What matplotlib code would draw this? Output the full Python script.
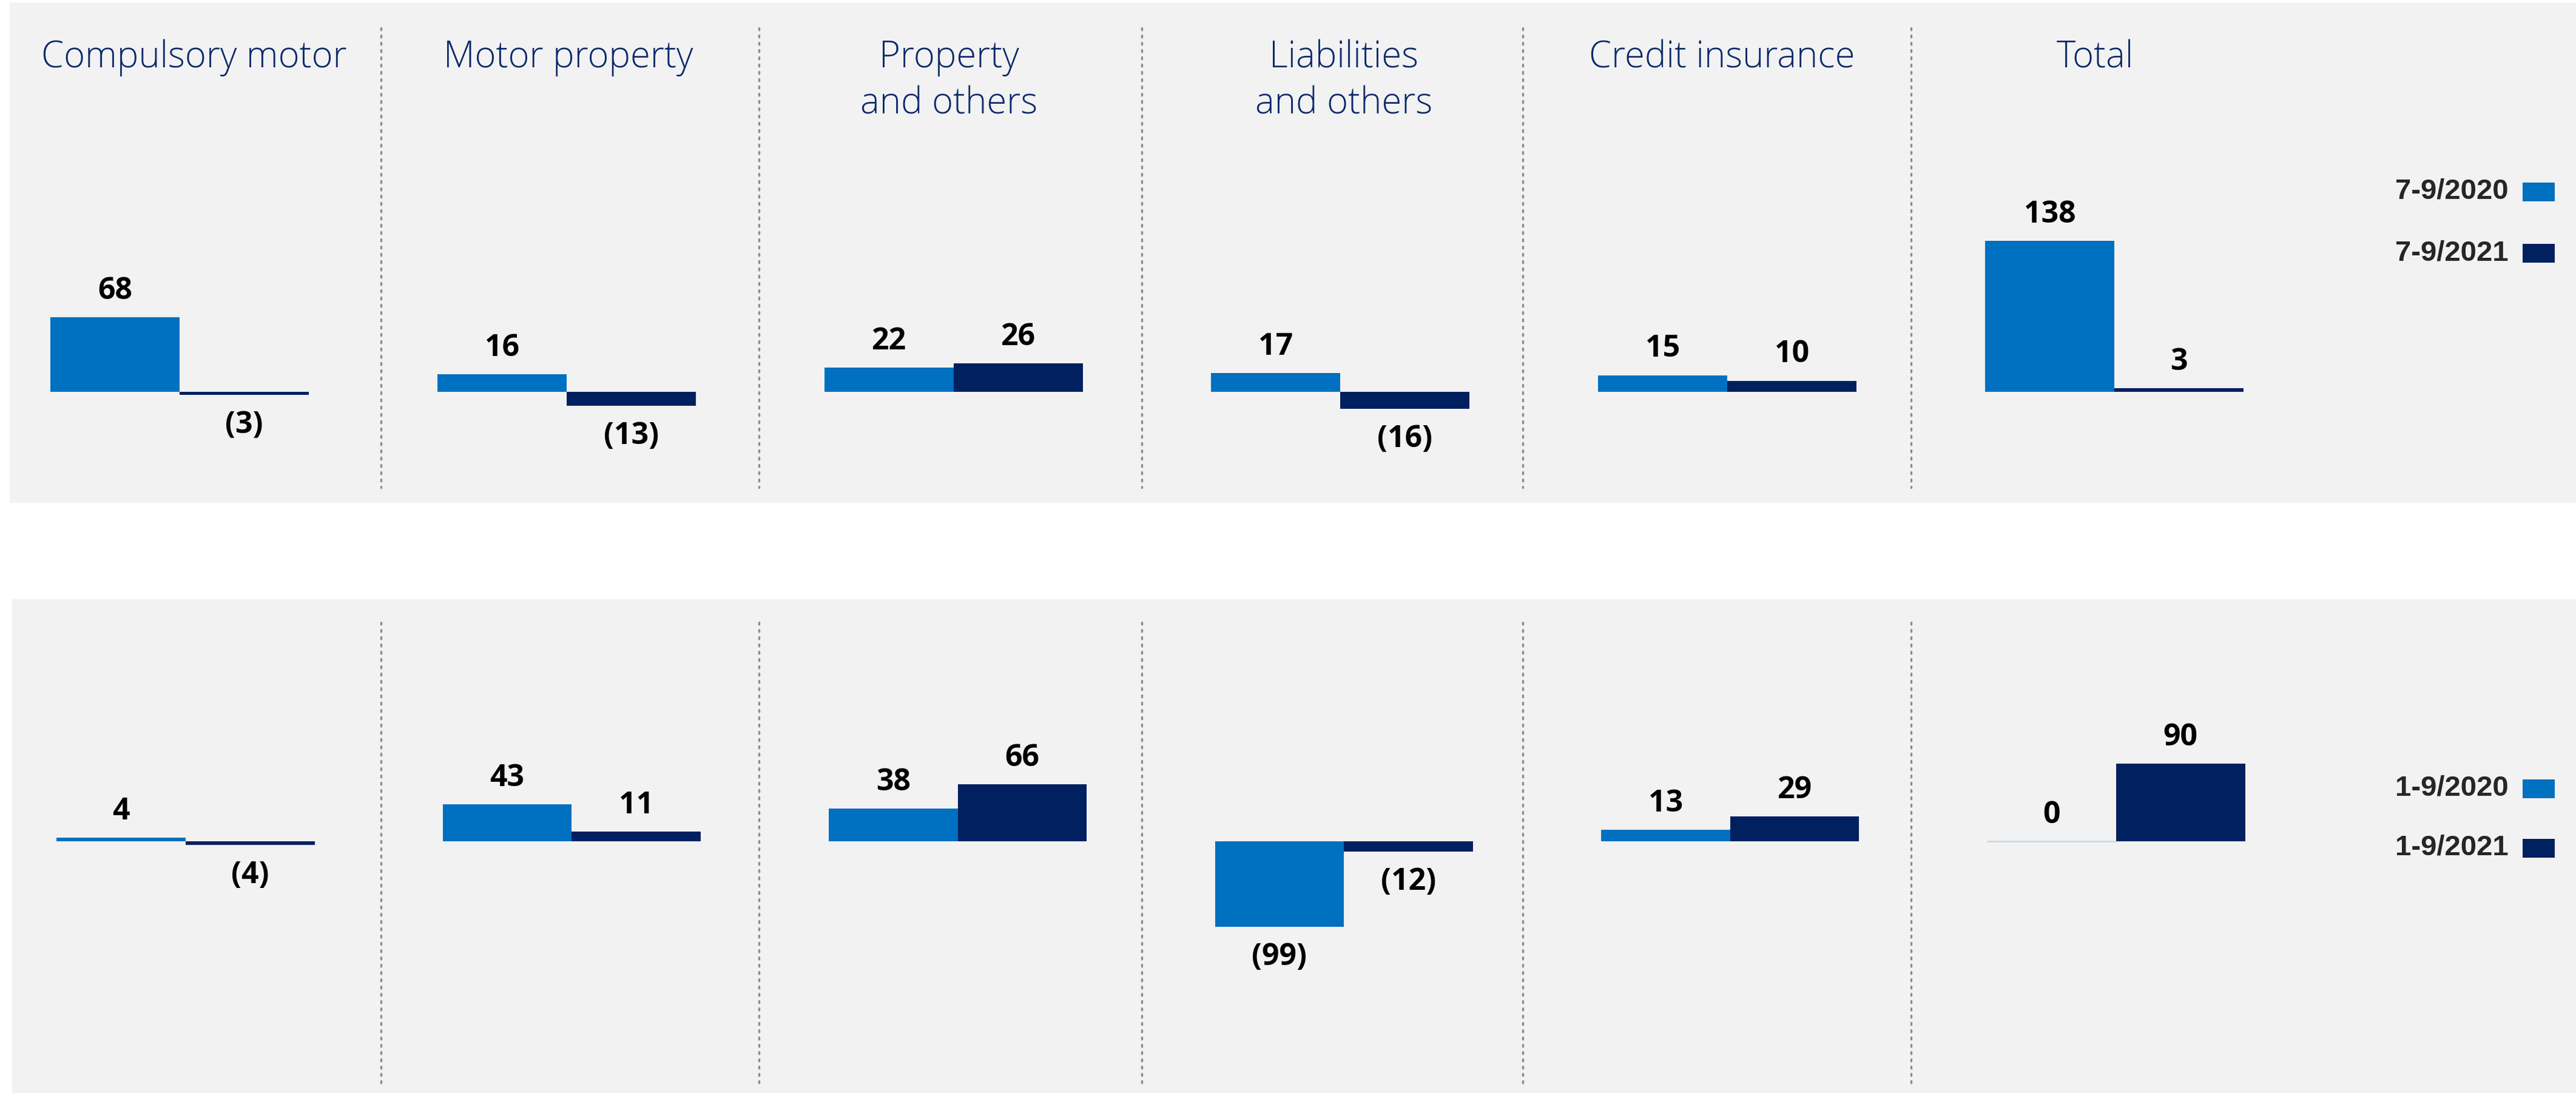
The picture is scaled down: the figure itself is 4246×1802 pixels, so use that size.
import matplotlib.pyplot as plt
from matplotlib.lines import Line2D
from matplotlib.patches import Rectangle

# Data
categories = ["Compulsory motor", "Motor property", "Property\nand others",
              "Liabilities\nand others", "Credit insurance", "Total"]

q3_series = ["7-9/2020", "7-9/2021"]
q3_2020 = [68, 16, 22, 17, 15, 138]
q3_2021 = [-3, -13, 26, -16, 10, 3]

ytd_series = ["1-9/2020", "1-9/2021"]
ytd_2020 = [4, 43, 38, -99, 13, 0]
ytd_2021 = [-4, 11, 66, -12, 29, 90]

# Styling / layout (pixels of the 4246x1802 canvas)
W, H, DPI = 4246, 1802, 100
LIGHT = "#0070c0"
DARK = "#002060"
BG = "#f2f2f2"
TITLE_C = "#0b2a6b"
SEP_C = "#8c8c8c"

title_x_px = [320, 937, 1564, 2215, 2838, 3453]
sep_x_px = [628, 1251, 1882, 2510, 3150]
bar_w = 0.334


def fmt(v):
    return f"({abs(v)})" if v < 0 else f"{v}"


def make_panel(fig, box, c0, pitch, zero, scale):
    x0, y0, x1, y1 = box
    ax = fig.add_axes([x0 / W, 1 - y1 / H, (x1 - x0) / W, (y1 - y0) / H])
    ax.set_xlim((x0 - c0) / pitch, (x1 - c0) / pitch)
    ax.set_ylim(-(y1 - zero) / scale, (zero - y0) / scale)
    ax.axis("off")
    ax.add_patch(Rectangle((0, 0), 1, 1, transform=ax.transAxes,
                           facecolor=BG, edgecolor="none", zorder=0))
    return ax


def draw_bars(ax, a, b):
    idx = list(range(len(a)))
    edge = ["#c9dbea" if v == 0 else "none" for v in a]
    ax.bar(idx, a, width=-bar_w, align="edge", color=LIGHT,
           edgecolor=edge, linewidth=2, zorder=2)
    ax.bar(idx, b, width=bar_w, align="edge", color=DARK,
           edgecolor="none", zorder=2)
    for i in idx:
        for v, dx in ((a[i], -bar_w / 2), (b[i], bar_w / 2)):
            off = 31 if v >= 0 else -36
            ax.annotate(fmt(v), (i + dx, v), xytext=(0, off),
                        textcoords="offset points", ha="center", va="center",
                        fontsize=36, fontweight="bold", family="Open Sans",
                        color="black")


def legend(fig, labels, ys):
    for lab, col, y in zip(labels, (LIGHT, DARK), ys):
        fig.text(4135 / W, 1 - y / H, lab, ha="right", va="center",
                 fontsize=34, fontweight="bold", family="Liberation Sans",
                 color="#262626")
        fig.add_artist(Rectangle((4158 / W, 1 - (y + 16) / H), 53 / W, 31 / H,
                                 transform=fig.transFigure, facecolor=col,
                                 edgecolor="none"))


def separators(fig, ytop, ybot):
    for x in sep_x_px:
        fig.add_artist(Line2D([x / W, x / W], [1 - ytop / H, 1 - ybot / H],
                              transform=fig.transFigure, color=SEP_C,
                              linewidth=2.4, linestyle=(0, (1, 2.6)),
                              dash_capstyle="round"))


fig = plt.figure(figsize=(W / DPI, H / DPI), dpi=DPI, facecolor="white")

top = make_panel(fig, (16, 4, 4246, 829), 296, 637.8, 645.5, 1.80)
draw_bars(top, q3_2020, q3_2021)
bot = make_panel(fig, (20, 988, 4246, 1802), 306, 636.4, 1387, 1.425)
draw_bars(bot, ytd_2020, ytd_2021)

for name, x in zip(categories, title_x_px):
    for j, line in enumerate(name.split("\n")):
        fig.text(x / W, 1 - (111 + 77 * j) / H, line, ha="center",
                 va="baseline", fontsize=43, fontweight="light",
                 family="Open Sans", color=TITLE_C)

legend(fig, q3_series, (316, 417))
legend(fig, ytd_series, (1300, 1398))
separators(fig, 46, 804)
separators(fig, 1026, 1787)

fig.savefig("out.png", dpi=DPI, facecolor="white")
